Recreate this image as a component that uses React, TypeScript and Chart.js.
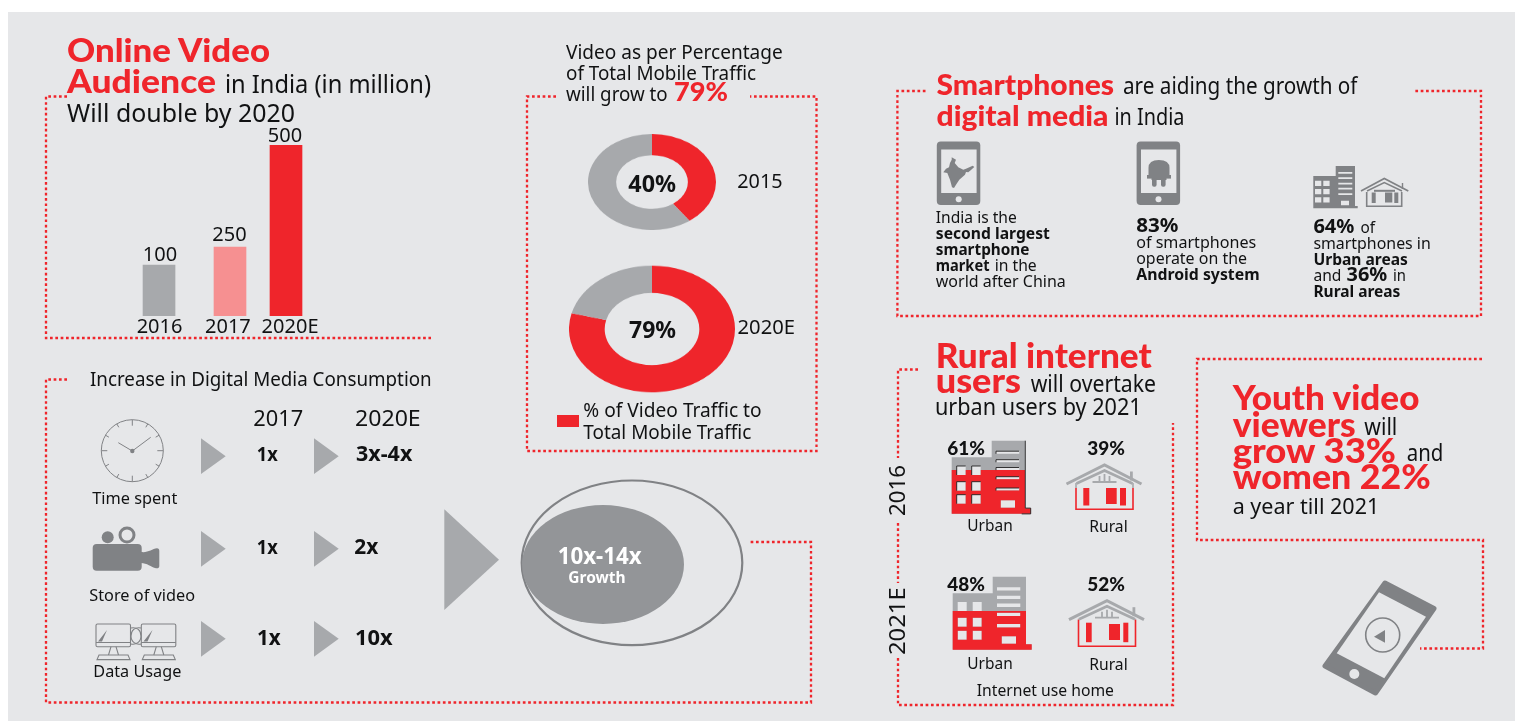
import React, { useEffect, useRef } from "react";
import { Chart, registerables, LinearScale, CategoryScale } from "chart.js";

/* ---------- data ---------- */
const audienceYears = ["2016", "2017", "2020E"];
const audienceValues = [100, 250, 500];
const trafficShare2015 = [40, 60];
const trafficShare2020 = [79, 21];

const RED = "#EF252B";
const GREY = "#A7A9AC";
const PINK = "#F69091";
const DARK = "#808285";
const BG = "#E6E7E9";
const INK = "#111213";
const FONT = "'Noto Sans', Lato, sans-serif";
const HEAD = "Lato, 'Noto Sans', sans-serif";

/* The reference's bars are not to scale and not evenly spaced; these two scales reproduce its axes. */
class KnotLinear extends LinearScale {
  static id = "knotLinear";
  static defaults = {};
  getPixelForValue(v: number) {
    const k = (this as any).options.knots as number[][];
    for (let i = 1; i < k.length; i++) {
      if (v <= k[i][0]) {
        const t = (v - k[i - 1][0]) / (k[i][0] - k[i - 1][0]);
        return (this as any).getPixelForDecimal(k[i - 1][1] + t * (k[i][1] - k[i - 1][1]));
      }
    }
    return (this as any).getPixelForDecimal(1);
  }
}
class SpacedCategory extends CategoryScale {
  static id = "spacedCategory";
  static defaults = {};
  getPixelForValue(v: any) {
    const self = this as any;
    const i = typeof v === "number" ? v : self.parse(v);
    return self.left + self.width * self.options.barAt[i];
  }
  getPixelForTick(i: number) {
    const self = this as any;
    return self.left + self.width * self.options.labelAt[i];
  }
}
Chart.register(...registerables, KnotLinear as any, SpacedCategory as any);

const labelShiftX = [1, -0.5, -1];
const labelGapY = [4, 6, 3.3];
const valueLabels = {
  id: "valueLabels",
  afterDatasetsDraw(chart: any) {
    const ctx = chart.ctx;
    const meta = chart.getDatasetMeta(0);
    ctx.save();
    ctx.font = "20px " + FONT;
    ctx.fillStyle = INK;
    ctx.textAlign = "center";
    ctx.textBaseline = "alphabetic";
    meta.data.forEach((bar: any, i: number) => {
      ctx.fillText(String(audienceValues[i]), bar.x + labelShiftX[i], bar.y - labelGapY[i]);
    });
    ctx.restore();
  },
};

function BarChart() {
  const ref = useRef<HTMLCanvasElement>(null);
  useEffect(() => {
    const chart = new Chart(ref.current!, {
      type: "bar",
      data: {
        labels: audienceYears,
        datasets: [
          {
            data: audienceValues,
            backgroundColor: [GREY, PINK, RED],
            barThickness: 32,
          },
        ],
      },
      options: {
        animation: false,
        responsive: false,
        events: [],
        layout: { padding: { top: 35 } },
        plugins: { legend: { display: false }, tooltip: { enabled: false } },
        scales: {
          x: {
            type: "spacedCategory",
            barAt: [0.227, 0.5, 0.7154],
            labelAt: [0.229, 0.492, 0.731],
            grid: { display: false, drawTicks: false },
            border: { display: false },
            ticks: {
              color: INK,
              font: { family: FONT, size: 20 },
              padding: -1,
              autoSkip: false,
              maxRotation: 0,
            },
          },
          y: {
            type: "knotLinear",
            display: false,
            min: 0,
            max: 500,
            knots: [
              [0, 0],
              [100, 0.298],
              [250, 0.4035],
              [500, 1],
            ],
          },
        },
      } as any,
      plugins: [valueLabels],
    });
    return () => chart.destroy();
  }, []);
  return (
    <canvas
      ref={ref}
      width={260}
      height={228}
      style={{ position: "absolute", left: 100, top: 110, width: 260, height: 228 }}
    />
  );
}

function Donut({ cx, cy, rx, ry, cut, values }: any) {
  const ref = useRef<HTMLCanvasElement>(null);
  useEffect(() => {
    const chart = new Chart(ref.current!, {
      type: "doughnut",
      data: {
        datasets: [{ data: values, backgroundColor: [RED, GREY], borderWidth: 0 }],
      },
      options: {
        animation: false,
        responsive: false,
        events: [],
        cutout: cut,
        plugins: { legend: { display: false }, tooltip: { enabled: false } },
      } as any,
    });
    return () => chart.destroy();
  }, []);
  const size = rx * 2;
  return (
    <div
      style={{
        position: "absolute",
        left: cx - rx,
        top: cy - rx,
        width: size,
        height: size,
        transform: `scaleY(${ry / rx})`,
        transformOrigin: "center",
      }}
    >
      <canvas ref={ref} width={size} height={size} style={{ width: size, height: size }} />
    </div>
  );
}

/* ---------- text and pictograms ---------- */
function T({ x, y, w, s, b, c, anchor, children, rot, f }: any) {
  return (
    <text
      x={x}
      y={y}
      fontSize={s}
      fontFamily={f || FONT}
      fontWeight={b ? b : 400}
      fill={c || INK}
      textAnchor={anchor}
      textLength={w}
      lengthAdjust={w ? "spacingAndGlyphs" : undefined}
      transform={rot ? `rotate(-90 ${x} ${y})` : undefined}
    >
      {children}
    </text>
  );
}
const H = (p: any) => <T f={HEAD} b={900} c={RED} {...p} />;

function Tri({ x, y, w, h }: any) {
  return <polygon points={`${x},${y} ${x + w},${y + h / 2} ${x},${y + h}`} fill={GREY} />;
}

function PhoneUpright({ x, map }: any) {
  return (
    <g>
      <rect x={x} y={141.5} width={43.5} height={63.5} rx={4} fill={DARK} />
      <rect x={x + 4.4} y={149.5} width={35.4} height={43.5} fill={BG} />
      <circle cx={x + 21.9} cy={199.3} r={3} fill={BG} />
      {map}
    </g>
  );
}

function Building({ ox, oy, split, lineH, dark, idp }: any) {
  const win = [
    [5, 25.3],
    [20, 25.3],
    [5, 41],
    [20, 41],
    [5, 54],
    [20, 54],
  ];
  const lines = [10.5, 19, 26.8, 36, 47.3];
  const d =
    "M0,16.6 H40 V0 H73.3 V67.6 H79 V73 H0 Z " +
    win.map(([a, b]) => `M${a},${b} h9 v9 h-9 Z`).join(" ") +
    " " +
    lines.map((l) => `M44.3,${l} h23.3 v${lineH} h-23.3 Z`).join(" ") +
    " M49,59.5 h14.3 v7.5 h-14.3 Z";
  return (
    <g transform={`translate(${ox} ${oy})`}>
      <clipPath id={idp}>
        <rect x={-2} y={split} width={90} height={60} />
      </clipPath>
      <path d={d} fillRule="evenodd" fill={GREY} />
      <path d={d} fillRule="evenodd" fill={RED} clipPath={`url(#${idp})`} />
      {dark && (
        <g stroke="#222" strokeWidth={0.9} fill="none">
          <path d="M73.6,0 V67.4 H79 V73.2 H70" />
          {win.map(([a, b], i) => (
            <path key={i} d={`M${a},${b + 9} V${b} h9`} />
          ))}
          {lines.map((l, i) => (
            <path key={i} d={`M44.3,${l + 2.6} V${l} h23`} />
          ))}
        </g>
      )}
    </g>
  );
}

function House({ ox, oy, wallTop, wallBottom, panels }: any) {
  return (
    <g transform={`translate(${ox} ${oy})`}>
      <polyline points="-38,19 0,0 37,19" fill="none" stroke={GREY} strokeWidth={3} />
      <polyline points="-28,18.5 0,5.5 28,18.5" fill="none" stroke={GREY} strokeWidth={2.8} />
      <path d="M-12,17 h24 M-5,11 v6 M0,9 v8 M5,11 v6" stroke={GREY} strokeWidth={1.8} fill="none" />
      <rect x={25.5} y={6.5} width={2.8} height={9} fill={GREY} />
      <path d={`M-28.5,18 V${wallTop} M28.5,18 V${wallTop}`} stroke={GREY} strokeWidth={1.6} />
      <polyline
        points={`-28.5,${wallTop} -28.5,${wallBottom} 28.5,${wallBottom} 28.5,${wallTop}`}
        fill="none"
        stroke={RED}
        strokeWidth={1.6}
      />
      {panels.map((p: number[], i: number) => (
        <rect key={i} x={p[0]} y={p[1]} width={p[2]} height={p[3]} fill={RED} />
      ))}
    </g>
  );
}

const Overlay = () => {
  const ticks = Array.from({ length: 12 }, (_, i) => (i * Math.PI) / 6);
  return (
    <svg
      width={1519}
      height={721}
      style={{ position: "absolute", left: 0, top: 0 }}
      xmlns="http://www.w3.org/2000/svg"
    >
      <g fill="none" stroke={RED} strokeWidth={2.3} strokeDasharray="2.7 2.63">
        <path d="M67,96.5 H46 V338 H431" />
        <path d="M556,96.5 H527 V451 H816.5 V96.5 H750" />
        <path d="M67,379.5 H46 V702.5 H811 V542 H749" />
        <path d="M925.5,91 H897.4 V316 H1481 V91 H1415" />
        <path d="M918,369.5 H898 V458 M898,523 V583 M898,658 V705 H1173 V423" />
        <path d="M1482,359 H1197 V540 H1483 V648.5 H1420" />
      </g>

      {/* audience */}
      <H x={67} y={61.7} w={203} s={33}>Online Video</H>
      <H x={67} y={92.5} w={149} s={33}>Audience</H>
      <T x={225} y={92.7} w={206} s={26}>in India (in million)</T>
      <T x={67} y={121.5} w={228} s={26}>Will double by 2020</T>

      {/* traffic */}
      <T x={566} y={59.3} w={216.7} s={20}>Video as per Percentage</T>
      <T x={566} y={80} w={190} s={20}>of Total Mobile Traffic</T>
      <T x={566} y={101} w={101.7} s={20}>will grow to</T>
      <H x={674} y={101} w={54} s={27}>79%</H>
      <T x={628.3} y={191.7} w={47.7} s={23} b={700}>40%</T>
      <T x={737.3} y={188} w={45.3} s={20}>2015</T>
      <T x={629} y={337.7} w={47} s={23} b={700}>79%</T>
      <T x={737.5} y={334} w={57.5} s={20}>2020E</T>
      <rect x={557} y={415} width={22} height={12} fill={RED} />
      <T x={583.3} y={416.7} w={178.3} s={20}>% of Video Traffic to</T>
      <T x={583.3} y={438.7} w={168} s={20}>Total Mobile Traffic</T>

      {/* consumption */}
      <T x={90} y={386} w={341.7} s={19}>Increase in Digital Media Consumption</T>
      <T x={253.3} y={426} w={50} s={22}>2017</T>
      <T x={355} y={426} w={65.7} s={22}>2020E</T>
      <T x={256.7} y={461} w={21} s={20} b={700}>1x</T>
      <T x={356} y={461} w={56.3} s={22} b={700}>3x-4x</T>
      <T x={256.7} y={554} w={21} s={20} b={700}>1x</T>
      <T x={354.3} y={554} w={24} s={22} b={700}>2x</T>
      <T x={257} y={645} w={23.7} s={22} b={700}>1x</T>
      <T x={355} y={645} w={37.7} s={22} b={700}>10x</T>
      <T x={92.3} y={504} w={85} s={17}>Time spent</T>
      <T x={89.3} y={601.3} w={105.7} s={17}>Store of video</T>
      <T x={93.3} y={677.3} w={88} s={17}>Data Usage</T>

      {[438.3, 531, 621].map((y) => (
        <g key={y}>
          <Tri x={201} y={y} w={24.7} h={35.7} />
          <Tri x={314} y={y} w={24.7} h={35.7} />
        </g>
      ))}
      <Tri x={444.3} y={509.3} w={54.7} h={100.7} />

      {/* clock */}
      <g stroke={DARK} fill="none">
        <circle cx={132.3} cy={450.7} r={31} strokeWidth={1} />
        {ticks.map((a, i) => (
          <line
            key={i}
            x1={132.3 + Math.sin(a) * 31}
            y1={450.7 - Math.cos(a) * 31}
            x2={132.3 + Math.sin(a) * (i % 3 === 0 ? 25 : 27)}
            y2={450.7 - Math.cos(a) * (i % 3 === 0 ? 25 : 27)}
            strokeWidth={1}
          />
        ))}
        <path d="M118.3,442.7 L132.3,451 L150.7,437.3" strokeWidth={1} />
      </g>
      <circle cx={132.3} cy={451} r={2.2} fill={DARK} />

      {/* camera */}
      <g fill={DARK}>
        <rect x={92.7} y={544} width={49} height={26.7} rx={4} />
        <path d="M141,552 C148,553 152,549 157,548.3 Q159.3,548.3 159.3,551 V566 Q159.3,568.6 156,568.3 C151,567 147,563 141,563 Z" />
        <circle cx={107.7} cy={537.3} r={6} />
      </g>
      <circle cx={127} cy={535} r={7} fill="none" stroke={DARK} strokeWidth={3} />

      {/* monitors */}
      <g fill="none" stroke={DARK} strokeWidth={1.1}>
        {[96, 141.3].map((mx) => (
          <g key={mx}>
            <rect x={mx} y={624} width={34.5} height={22.7} rx={1.5} />
            <line x1={mx} y1={642.5} x2={mx + 34.5} y2={642.5} />
            <path d={`M${mx + 15},646.7 L${mx + 12.5},655 M${mx + 20},646.7 L${mx + 22.5},655`} />
            <path d={`M${mx + 3},655 h29 l2,4.6 h-33 Z`} />
          </g>
        ))}
        <path d="M131,628 C137,627 141,630 141,636 C141,642 136,645 131,644" />
        <path d="M141,628 C135,627 131,630 131,636 C131,642 136,645 141,644" />
      </g>
      <path d="M98,641.5 L107,630 L102,641.5 Z M143.5,641.5 L152.5,630 L147.5,641.5 Z" fill={DARK} />

      {/* growth */}
      <ellipse cx={632} cy={562.8} rx={110.3} ry={82.3} fill="none" stroke={DARK} strokeWidth={2.2} />
      <ellipse cx={603} cy={564.5} rx={81} ry={59.5} fill="#939598" />
      <T x={557.7} y={564.3} w={84} s={23} b={700} c="#FFFFFF">10x-14x</T>
      <T x={568.3} y={583.3} w={57.4} s={16} b={700} c="#FFFFFF">Growth</T>

      {/* smartphones */}
      <H x={936.5} y={95} w={177.6} s={28}>Smartphones</H>
      <T x={1123} y={94.3} w={234.5} s={23}>are aiding the growth of</T>
      <H x={936.5} y={126} w={172} s={28}>digital media</H>
      <T x={1114.5} y={125.3} w={70} s={23}>in India</T>

      <PhoneUpright
        x={936.8}
        map={
          <polygon
            fill={DARK}
            points="951.7,157.3 956,159.7 954.7,163 958.3,167.3 963.3,169.7 966,168.7 972.7,165.7 974.3,167 970.7,170.3 968.3,172.3 966,172 965,174.7 959.3,179.7 956,184.7 954,188 952,187.3 950,179.7 947.3,173 943.3,172.3 946,168.7 949,167.3 950,163 951.7,159.7"
          />
        }
      />
      <PhoneUpright
        x={1136.6}
        map={
          <g fill={DARK}>
            <path d="M1148.5,176 V168 Q1148.5,160 1158.8,160 Q1169.5,160 1169.5,168 V176 Z" />
            <rect x={1147} y={175} width={24} height={3.6} />
            <rect x={1151.5} y={178} width={15} height={2} />
            <rect x={1152} y={178} width={4.6} height={8.7} rx={2} />
            <rect x={1161} y={178} width={4.6} height={8.7} rx={2} />
          </g>
        }
      />

      {/* city */}
      <path
        fillRule="evenodd"
        fill={DARK}
        d={
          "M1313.3,176 H1335.7 V166 H1355 V206 H1357.7 V208.3 H1313.3 Z " +
          [1315, 1323.3].flatMap((x) => [180.7, 189, 197.3].map((y) => `M${x},${y} h6.3 v5.2 h-6.3 Z`)).join(" ") +
          " " +
          [172, 177.3, 182.7, 187.7, 193.3].map((y) => `M1338.3,${y} h14 v1.7 h-14 Z`).join(" ") +
          " M1341,200.7 h8 v4.5 h-8 Z"
        }
      />
      <g fill="none" stroke={DARK}>
        <polyline points="1361,191 1384.3,178.5 1408.3,191" strokeWidth={1.7} />
        <polyline points="1367,191 1384.3,182.5 1402,191" strokeWidth={1.5} />
        <path d="M1366.7,192 V206.2 H1401.7 V192" strokeWidth={1.6} />
        <path d="M1402.5,183 V189" strokeWidth={1.4} />
      </g>
      <g fill={DARK}>
        <rect x={1371.7} y={192.5} width={4} height={10.5} />
        <rect x={1385} y={192.5} width={7.3} height={10} />
        <rect x={1394.3} y={192.5} width={4} height={10.5} />
        <rect x={1374} y={189.8} width={21} height={2} />
      </g>

      <T x={935.8} y={222.7} w={81} s={16.5}>India is the</T>
      <T x={935.8} y={239} w={114} s={16.5} b={700}>second largest</T>
      <T x={935.8} y={255} w={93.7} s={16.5} b={700}>smartphone</T>
      <T x={935.8} y={271} w={53.7} s={16.5} b={700}>market</T>
      <T x={994.7} y={271} w={42} s={16.5}>in the</T>
      <T x={935.8} y={286.7} w={130} s={16.5}>world after China</T>

      <T x={1136.2} y={231.7} w={42.3} s={20} b={700}>83%</T>
      <T x={1136.2} y={248.3} w={120} s={16.5}>of smartphones</T>
      <T x={1136.2} y={264} w={110.8} s={16.5}>operate on the</T>
      <T x={1136.2} y={280} w={123.4} s={16.5} b={700}>Android system</T>

      <T x={1313.4} y={232.7} w={41} s={20} b={700}>64%</T>
      <T x={1360.4} y={232.7} w={14.6} s={16.5}>of</T>
      <T x={1313.4} y={249.3} w={117.4} s={16.5}>smartphones in</T>
      <T x={1313.4} y={265} w={94.5} s={16.5} b={700}>Urban areas</T>
      <T x={1313.4} y={281} w={28} s={16.5}>and</T>
      <T x={1346.6} y={281} w={40.7} s={20} b={700}>36%</T>
      <T x={1392.9} y={281} w={13} s={16.5}>in</T>
      <T x={1313.4} y={296.7} w={87} s={16.5} b={700}>Rural areas</T>

      {/* rural */}
      <H x={935.7} y={367.5} w={216} s={34}>Rural internet</H>
      <H x={935.7} y={392.5} w={85.3} s={34}>users</H>
      <T x={1030.7} y={392} w={125.3} s={23}>will overtake</T>
      <T x={935} y={415} w={206.7} s={23}>urban users by 2021</T>

      <Building ox={951.7} oy={440.7} split={29.3} lineH={2.6} dark idp="b1" />
      <Building ox={952.7} oy={576.7} split={34.3} lineH={3.4} idp="b2" />
      <House
        ox={1104.5}
        oy={465}
        wallTop={23}
        wallBottom={44.3}
        panels={[
          [-21.2, 23, 6, 17.5],
          [1.5, 23, 10.7, 16],
          [15.5, 23, 6, 17.5],
        ]}
      />
      <House
        ox={1107}
        oy={600.7}
        wallTop={19}
        wallBottom={45.5}
        panels={[
          [-21, 22, 5.7, 19.5],
          [2, 23.3, 11, 16],
          [16.3, 22, 5, 19.5],
        ]}
      />
      <T x={947.3} y={454.5} w={37.7} s={18} b={900} f={HEAD}>61%</T>
      <T x={1087.3} y={454.5} w={37.7} s={18} b={900} f={HEAD}>39%</T>
      <T x={947.3} y={590.5} w={37.7} s={18} b={900} f={HEAD}>48%</T>
      <T x={1087.3} y={590.5} w={37.7} s={18} b={900} f={HEAD}>52%</T>
      <T x={967.3} y={531} w={45.4} s={17}>Urban</T>
      <T x={1089.3} y={531.7} w={38.4} s={17}>Rural</T>
      <T x={967.3} y={669} w={45.4} s={17}>Urban</T>
      <T x={1089.3} y={670} w={38.4} s={17}>Rural</T>
      <T x={976.7} y={695.7} w={137.3} s={17}>Internet use home</T>
      <T x={905} y={516} w={51} s={22} rot>2016</T>
      <T x={905} y={655} w={67.7} s={22} rot>2021E</T>

      {/* youth */}
      <H x={1232.7} y={409.5} w={186.7} s={34}>Youth video</H>
      <H x={1232.7} y={436.5} w={123} s={34}>viewers</H>
      <T x={1364.3} y={435} w={33} s={23}>will</T>
      <H x={1232.7} y={462.5} w={163.3} s={34}>grow 33%</H>
      <T x={1406.7} y={461} w={36.6} s={23}>and</T>
      <H x={1232.7} y={489} w={198} s={34}>women 22%</H>
      <T x={1232.7} y={514} w={146.6} s={22}>a year till 2021</T>

      <polygon
        points="1385,583 1434,608.5 1375.5,693 1325,666"
        fill={DARK}
        stroke={DARK}
        strokeWidth={5}
        strokeLinejoin="round"
      />
      <polygon points="1379,592.3 1426,616.7 1384.3,678.3 1336.7,653.3" fill={BG} />
      <circle cx={1354.3} cy={674} r={5} fill={BG} />
      <circle cx={1382.7} cy={635} r={17} fill="none" stroke={DARK} strokeWidth={1.6} />
      <polygon points="1374,636.7 1385,630 1385,642.7" fill={DARK} />
    </svg>
  );
};

export default function App() {
  return (
    <div
      style={{
        position: "fixed",
        left: 0,
        top: 0,
        width: 1519,
        height: 721,
        overflow: "hidden",
        background: "#FFFFFF",
      }}
    >
      <div style={{ position: "absolute", left: 8, top: 12, width: 1507, height: 709, background: BG }} />
      <BarChart />
      <Donut cx={652} cy={181.5} rx={64} ry={48} cut="56%" values={trafficShare2015} />
      <Donut cx={652.3} cy={329.3} rx={83} ry={63.3} cut="57%" values={trafficShare2020} />
      <Overlay />
    </div>
  );
}
